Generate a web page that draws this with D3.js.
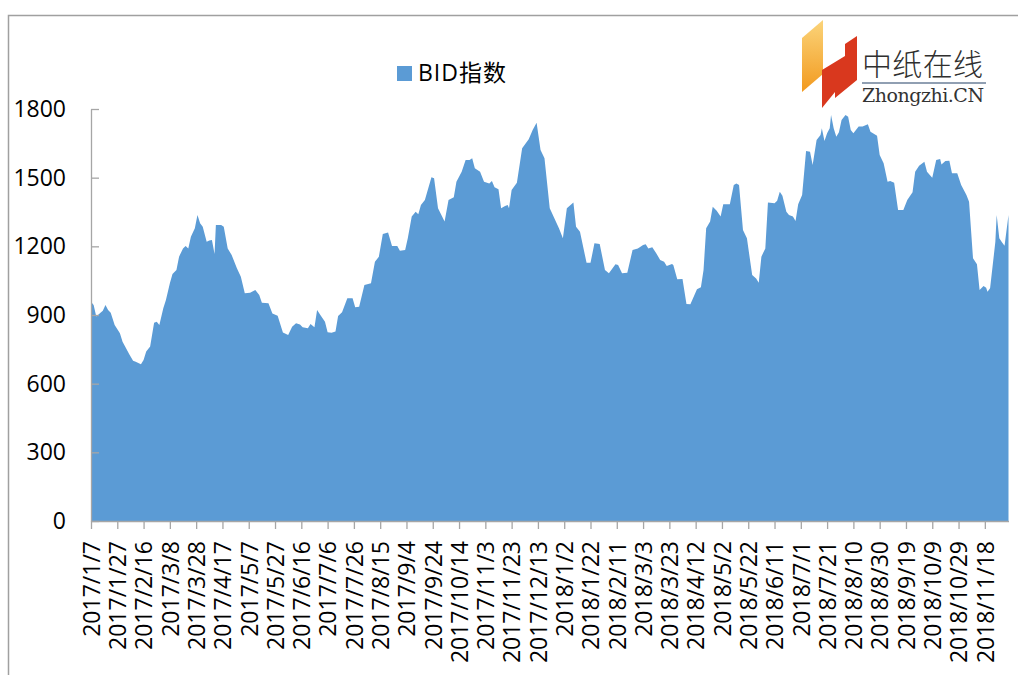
<!DOCTYPE html>
<html>
<head>
<meta charset="utf-8">
<script src="https://cdn.jsdelivr.net/npm/d3@7"></script>
<style>
	html, body { margin: 0; padding: 0; background: #fff; }
	svg { display: block; }
</style>
</head>
<body>
<div id="bid-chart-container"></div>
<script>
const seriesName = "BID指数"

const dates = [
	"2017-01-07", "2017-01-09", "2017-01-11", "2017-01-14", "2017-01-16", "2017-01-18", "2017-01-20", "2017-01-22",
	"2017-01-25", "2017-01-29", "2017-01-31", "2017-02-04", "2017-02-05", "2017-02-08", "2017-02-10", "2017-02-14",
	"2017-02-16", "2017-02-18", "2017-02-21", "2017-02-24", "2017-02-26", "2017-02-28", "2017-03-03", "2017-03-05",
	"2017-03-08", "2017-03-10", "2017-03-13", "2017-03-15", "2017-03-18", "2017-03-20", "2017-03-22", "2017-03-24",
	"2017-03-27", "2017-03-29", "2017-03-31", "2017-04-02", "2017-04-05", "2017-04-07", "2017-04-09", "2017-04-11",
	"2017-04-12", "2017-04-16", "2017-04-18", "2017-04-21", "2017-04-24", "2017-04-28", "2017-05-01", "2017-05-04",
	"2017-05-08", "2017-05-12", "2017-05-15", "2017-05-17", "2017-05-22", "2017-05-25", "2017-05-29", "2017-06-02",
	"2017-06-06", "2017-06-09", "2017-06-12", "2017-06-15", "2017-06-17", "2017-06-21", "2017-06-23", "2017-06-26",
	"2017-06-28", "2017-07-01", "2017-07-04", "2017-07-06", "2017-07-09", "2017-07-12", "2017-07-14", "2017-07-17",
	"2017-07-21", "2017-07-25", "2017-07-27", "2017-07-30", "2017-08-03", "2017-08-08", "2017-08-11", "2017-08-14",
	"2017-08-17", "2017-08-21", "2017-08-24", "2017-08-28", "2017-08-30", "2017-09-03", "2017-09-05", "2017-09-08",
	"2017-09-11", "2017-09-13", "2017-09-15", "2017-09-18", "2017-09-23", "2017-09-25", "2017-09-28", "2017-10-03",
	"2017-10-06", "2017-10-10", "2017-10-12", "2017-10-16", "2017-10-19", "2017-10-22", "2017-10-24", "2017-10-26",
	"2017-10-30", "2017-11-02", "2017-11-06", "2017-11-08", "2017-11-10", "2017-11-13", "2017-11-15", "2017-11-18",
	"2017-11-20", "2017-11-21", "2017-11-23", "2017-11-27", "2017-12-01", "2017-12-06", "2017-12-09", "2017-12-12",
	"2017-12-15", "2017-12-18", "2017-12-22", "2017-12-29", "2018-01-01", "2018-01-04", "2018-01-09", "2018-01-11",
	"2018-01-14", "2018-01-19", "2018-01-22", "2018-01-25", "2018-01-29", "2018-02-02", "2018-02-05", "2018-02-10",
	"2018-02-12", "2018-02-15", "2018-02-19", "2018-02-23", "2018-02-27", "2018-03-03", "2018-03-05", "2018-03-07",
	"2018-03-10", "2018-03-13", "2018-03-16", "2018-03-19", "2018-03-21", "2018-03-25", "2018-03-26", "2018-03-29",
	"2018-04-02", "2018-04-05", "2018-04-08", "2018-04-10", "2018-04-13", "2018-04-16", "2018-04-18", "2018-04-20",
	"2018-04-23", "2018-04-25", "2018-04-28", "2018-05-01", "2018-05-03", "2018-05-08", "2018-05-11", "2018-05-13",
	"2018-05-15", "2018-05-18", "2018-05-21", "2018-05-25", "2018-05-28", "2018-05-30", "2018-06-01", "2018-06-04",
	"2018-06-06", "2018-06-11", "2018-06-13", "2018-06-15", "2018-06-17", "2018-06-20", "2018-06-22", "2018-06-25",
	"2018-06-27", "2018-06-29", "2018-07-02", "2018-07-05", "2018-07-08", "2018-07-10", "2018-07-13", "2018-07-16",
	"2018-07-17", "2018-07-19", "2018-07-21", "2018-07-23", "2018-07-24", "2018-07-26", "2018-07-28", "2018-07-30",
	"2018-08-01", "2018-08-04", "2018-08-06", "2018-08-08", "2018-08-10", "2018-08-14", "2018-08-17", "2018-08-21",
	"2018-08-23", "2018-08-28", "2018-08-30", "2018-09-02", "2018-09-05", "2018-09-07", "2018-09-10", "2018-09-13",
	"2018-09-17", "2018-09-20", "2018-09-24", "2018-09-26", "2018-09-29", "2018-10-03", "2018-10-05", "2018-10-09",
	"2018-10-12", "2018-10-15", "2018-10-16", "2018-10-19", "2018-10-22", "2018-10-24", "2018-10-28", "2018-10-31",
	"2018-11-04", "2018-11-06", "2018-11-09", "2018-11-12", "2018-11-14", "2018-11-17", "2018-11-19", "2018-11-20",
	"2018-11-22", "2018-11-24", "2018-11-26", "2018-11-27", "2018-11-29", "2018-12-01", "2018-12-03", "2018-12-06"
]

const bidValues = [
	958, 944, 893, 909, 919, 944, 922, 910,
	856, 820, 783, 740, 730, 700, 696, 685,
	703, 740, 762, 866, 871, 856, 929, 966,
	1039, 1079, 1097, 1155, 1191, 1201, 1191, 1242,
	1279, 1337, 1301, 1286, 1220, 1225, 1228, 1167,
	1293, 1293, 1286, 1191, 1162, 1104, 1067, 995,
	997, 1009, 987, 954, 951, 907, 897, 823,
	813, 849, 864, 859, 846, 842, 861, 846,
	922, 896, 871, 825, 822, 828, 896, 912,
	973, 973, 934, 936, 1031, 1039, 1133, 1155,
	1254, 1260, 1201, 1201, 1181, 1184, 1235, 1330,
	1351, 1340, 1381, 1402, 1502, 1497, 1366, 1308,
	1402, 1414, 1482, 1526, 1577, 1577, 1585, 1541,
	1526, 1482, 1475, 1485, 1458, 1449, 1366, 1376,
	1381, 1366, 1446, 1478, 1628, 1668, 1708, 1740,
	1621, 1585, 1366, 1279, 1235, 1366, 1391, 1286,
	1264, 1128, 1128, 1213, 1210, 1097, 1082, 1122,
	1118, 1082, 1085, 1184, 1191, 1206, 1209, 1191,
	1196, 1170, 1140, 1133, 1114, 1123, 1118, 1056,
	1057, 948, 947, 973, 1012, 1021, 1097, 1279,
	1308, 1373, 1356, 1330, 1384, 1384, 1468, 1475,
	1468, 1271, 1235, 1075, 1060, 1041, 1155, 1191,
	1391, 1388, 1399, 1439, 1421, 1351, 1337, 1330,
	1311, 1384, 1424, 1616, 1613, 1555, 1665, 1686,
	1716, 1660, 1694, 1716, 1774, 1716, 1679, 1698,
	1752, 1774, 1766, 1708, 1694, 1723, 1723, 1733,
	1701, 1683, 1599, 1563, 1482, 1485, 1478, 1359,
	1359, 1402, 1436, 1526, 1552, 1570, 1526, 1500,
	1577, 1582, 1558, 1573, 1574, 1519, 1519, 1468,
	1424, 1395, 1148, 1122, 1009, 1027, 1019, 1002,
	1017, 1118, 1220, 1337, 1235, 1218, 1203, 1337
]

const xTickLabels = [
	"2017/1/7", "2017/1/27", "2017/2/16", "2017/3/8", "2017/3/28", "2017/4/17", "2017/5/7", "2017/5/27",
	"2017/6/16", "2017/7/6", "2017/7/26", "2017/8/15", "2017/9/4", "2017/9/24", "2017/10/14", "2017/11/3",
	"2017/11/23", "2017/12/13", "2018/1/2", "2018/1/22", "2018/2/11", "2018/3/3", "2018/3/23", "2018/4/12",
	"2018/5/2", "2018/5/22", "2018/6/11", "2018/7/1", "2018/7/21", "2018/8/10", "2018/8/30", "2018/9/19",
	"2018/10/9", "2018/10/29", "2018/11/18"
]

const yTicks = [0, 300, 600, 900, 1200, 1500, 1800]

const axisDomain = ["2017-01-07", "2018-12-06"]

const width = 1018
const height = 675
const plotLeft = 91
const plotRight = 1008.5
const plotTop = 109
const plotBottom = 521
const areaColor = "#5b9bd5"
const axisColor = "#a6a6a6"
const fontFamily = "'Open Sans', 'Noto Sans CJK SC', sans-serif"

const parseDate = d3.timeParse("%Y-%m-%d")
const parseLabel = d3.timeParse("%Y/%m/%d")

const data = dates.map((d, i) => ({ date: parseDate(d), value: bidValues[i] }))

const x = d3
	.scaleTime()
	.domain(axisDomain.map(parseDate))
	.range([plotLeft, plotRight])
const y = d3.scaleLinear().domain([0, 1800]).range([plotBottom, plotTop])

const svg = d3
	.select("#bid-chart-container")
	.append("svg")
	.attr("width", width)
	.attr("height", height)
	.style("font-family", fontFamily)

// outer chart frame, runs off the right and bottom edges like the screenshot
svg.append("rect")
	.attr("x", 8.5)
	.attr("y", 15.5)
	.attr("width", width + 20)
	.attr("height", height + 20)
	.attr("fill", "#fff")
	.attr("stroke", "#a0a0a0")
	.attr("stroke-width", 1.5)

svg.append("path")
	.datum(data)
	.attr("fill", areaColor)
	.attr(
		"d",
		d3
			.area()
			.x(d => x(d.date))
			.y0(y(0))
			.y1(d => y(d.value))
	)

const yAxis = svg
	.append("g")
	.attr("transform", `translate(${plotLeft},0)`)
	.call(
		d3
			.axisLeft(y)
			.tickValues(yTicks)
			.tickFormat(d3.format("d"))
			.tickSizeInner(-8)
			.tickSizeOuter(0)
			.tickPadding(25)
	)
yAxis.select(".domain").attr("stroke", axisColor).attr("stroke-width", 1.3)
yAxis.selectAll(".tick line").attr("stroke", axisColor).attr("stroke-width", 1.3)
yAxis.selectAll(".tick text")
	.attr("x", -25)
	.attr("font-size", 23)
	.attr("font-family", fontFamily)
	.attr("fill", "#000")

const xAxis = svg
	.append("g")
	.attr("transform", `translate(0,${plotBottom})`)
	.call(
		d3
			.axisBottom(x)
			.tickValues(xTickLabels.map(parseLabel))
			.tickSizeInner(8)
			.tickSizeOuter(0)
			.tickFormat((d, i) => xTickLabels[i])
	)
xAxis.select(".domain").attr("stroke", axisColor).attr("stroke-width", 1.3)
xAxis.selectAll(".tick line").attr("stroke", axisColor).attr("stroke-width", 1.3)
xAxis.selectAll(".tick text")
	.attr("transform", "rotate(-90)")
	.attr("text-anchor", "end")
	.attr("x", -20)
	.attr("y", 0)
	.attr("dy", "0.36em")
	.attr("font-size", 23)
	.attr("font-family", fontFamily)
	.attr("fill", "#000")

const legend = svg.append("g").attr("transform", "translate(397,66)")
legend.append("rect").attr("width", 15).attr("height", 15).attr("fill", areaColor)
legend.append("text")
	.attr("x", 21)
	.attr("y", 14.5)
	.attr("font-size", 23)
	.attr("textLength", 88)
	.attr("fill", "#000")
	.text(seriesName)

// site logo in the upper right corner
const logo = svg.append("g")
const logoGradient = svg
	.append("defs")
	.append("linearGradient")
	.attr("id", "logo-orange")
	.attr("x1", 0)
	.attr("y1", 0)
	.attr("x2", 0)
	.attr("y2", 1)
logoGradient.append("stop").attr("offset", "0%").attr("stop-color", "#fbd47a")
logoGradient.append("stop").attr("offset", "100%").attr("stop-color", "#f29a1f")
logo.append("polygon")
	.attr("points", "802,38 823,20 823,74 802,92")
	.attr("fill", "url(#logo-orange)")
logo.append("polygon")
	.attr("points", "845,44 857,36 857,80 835,98 835,92 822,108 822,70 845,56")
	.attr("fill", "#d9381e")
logo.append("text")
	.attr("x", 862)
	.attr("y", 75)
	.attr("font-size", 30)
	.attr("font-family", "'Noto Sans CJK SC', sans-serif")
	.attr("font-weight", 300)
	.attr("textLength", 121)
	.attr("fill", "#2f2f2f")
	.text("中纸在线")
logo.append("line")
	.attr("x1", 862)
	.attr("x2", 986)
	.attr("y1", 83)
	.attr("y2", 83)
	.attr("stroke", "#6b7f99")
	.attr("stroke-width", 1.5)
logo.append("text")
	.attr("x", 862)
	.attr("y", 102)
	.attr("font-size", 19)
	.attr("font-family", "'DejaVu Serif', serif")
	.attr("textLength", 122)
	.attr("fill", "#333")
	.text("Zhongzhi.CN")
</script>
</body>
</html>
